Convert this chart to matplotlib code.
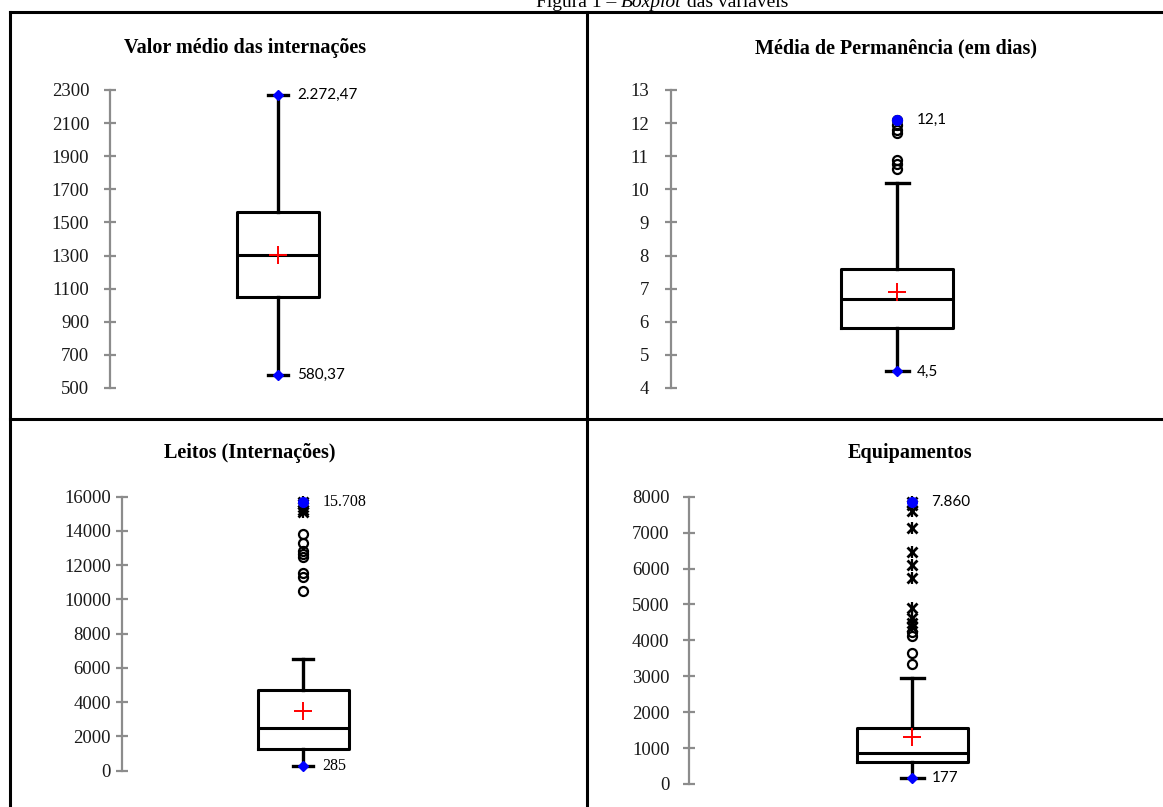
import matplotlib
matplotlib.use("Agg")
import matplotlib.pyplot as plt
from matplotlib.lines import Line2D

# dados
titulos = ["Valor médio das internações", "Média de Permanência (em dias)",
           "Leitos (Internações)", "Equipamentos"]
q1 = [1052, 5.8, 1285, 620]
mediana = [1305, 6.7, 2480, 855]
q3 = [1565, 7.6, 4710, 1550]
media = [1303, 6.9, 3490, 1317]
minimo = [580.37, 4.5, 285, 177]
bigode_sup = [2272.47, 10.2, 6500, 2940]
maximo = [2272.47, 12.1, 15708, 7860]
circulos = [[],
            [10.6, 10.75, 10.9, 11.7, 11.8, 11.95],
            [10510, 11330, 11560, 12460, 12650, 12850, 13310, 13820],
            [3340, 3640, 4130, 4240]]
asteriscos = [[],
              [],
              [15100, 15250, 15400, 15550],
              [4380, 4490, 4610, 4890, 5750, 6100, 6470, 7130, 7610, 7760]]
tipo_max = [None, 'circulo', 'asterisco', 'asterisco']
rot_max = ["2.272,47", "12,1", "15.708", "7.860"]
rot_min = ["580,37", "4,5", "285", "177"]
yticks = [list(range(500, 2301, 200)), list(range(4, 14)),
          list(range(0, 16001, 2000)), list(range(0, 8001, 1000))]

# layout em pixels (figura 1163x807)
W, H = 1163, 807
eixo_x = [110, 671, 122, 689]
eixo_topo = [90, 90, 496.7, 496.7]
eixo_base = [388, 388, 770.7, 784]
centro = [168, 226, 181, 223]
largura = [82, 112, 91, 111]
tampa = [20, 23, 20, 23]
titulo_xy = [(245, 48), (896, 48), (250, 453), (910, 453)]
rot_serif = [False, False, True, False]
pad = [11, 12, 4, 10]


def asterisco(ax, x, ys):
    # marcador tipo "ж": x sobreposto a uma barra vertical
    ax.plot(x, ys, ls='none', marker='x', mec='black', ms=7.5, mew=2)
    ax.plot(x, ys, ls='none', marker='|', mec='black', ms=8, mew=1.6)


def circulo(ax, x, ys):
    ax.plot(x, ys, ls='none', marker='o', mfc='none', mec='black', ms=6.5, mew=1.6)


fig = plt.figure(figsize=(11.63, 8.07), dpi=100)

for i in range(4):
    ax = fig.add_axes([eixo_x[i] / W, 1 - eixo_base[i] / H, 400 / W,
                       (eixo_base[i] - eixo_topo[i]) / H])
    stats = [dict(med=mediana[i], q1=q1[i], q3=q3[i], whislo=minimo[i],
                  whishi=bigode_sup[i], mean=media[i], fliers=[])]
    ax.bxp(stats, positions=[centro[i]], widths=[largura[i]], capwidths=[tampa[i]],
           showmeans=True, showfliers=False,
           boxprops=dict(color='black', linewidth=2.2),
           medianprops=dict(color='black', linewidth=2.2),
           whiskerprops=dict(color='black', linewidth=2.4),
           capprops=dict(color='black', linewidth=2.4),
           meanprops=dict(marker='+', markeredgecolor='red', markersize=13,
                          markeredgewidth=1.4))
    if circulos[i]:
        circulo(ax, [centro[i]] * len(circulos[i]), circulos[i])
    if asteriscos[i]:
        asterisco(ax, [centro[i]] * len(asteriscos[i]), asteriscos[i])
    if tipo_max[i] == 'asterisco':
        asterisco(ax, [centro[i]], [maximo[i]])
    elif tipo_max[i] == 'circulo':
        circulo(ax, [centro[i]], [maximo[i]])
    if tipo_max[i]:
        ax.plot([centro[i]], [maximo[i]], 'o', color='blue', ms=7)
    else:
        ax.plot([centro[i]], [maximo[i]], 'D', color='blue', ms=5)
    ax.plot([centro[i]], [minimo[i]], 'D', color='blue', ms=5)

    fam = 'Liberation Serif' if rot_serif[i] else 'Lato'
    fs = 11.5 if rot_serif[i] else 11
    ax.annotate(rot_max[i], xy=(centro[i], maximo[i]), xytext=(14, 0),
                textcoords='offset points', va='center', family=fam, fontsize=fs)
    ax.annotate(rot_min[i], xy=(centro[i], minimo[i]), xytext=(14, 0),
                textcoords='offset points', va='center', family=fam, fontsize=fs)

    ax.set_xlim(0, 400)
    ax.set_ylim(yticks[i][0], yticks[i][-1])
    ax.set_yticks(yticks[i])
    ax.set_xticks([])
    for s in ['top', 'right', 'bottom']:
        ax.spines[s].set_visible(False)
    ax.spines['left'].set_color('#8c8c8c')
    ax.spines['left'].set_linewidth(1.6)
    ax.tick_params(axis='y', direction='inout', length=8, width=1.6,
                   color='#8c8c8c', pad=pad[i], labelsize=13.5,
                   labelcolor='#1a1a1a')
    for lab in ax.get_yticklabels():
        lab.set_family('Liberation Serif')
    for ln in ax.lines:
        ln.set_clip_on(False)

    fig.text(titulo_xy[i][0] / W, 1 - titulo_xy[i][1] / H, titulos[i],
             ha='center', va='center', family='Liberation Serif',
             fontweight='bold', fontsize=14.5)

# linhas da tabela
lw = 2.2
fig.add_artist(Line2D([10 / W, 1], [1 - 12 / H] * 2, color='black', lw=lw))
fig.add_artist(Line2D([10 / W, 1], [1 - 419 / H] * 2, color='black', lw=lw))
fig.add_artist(Line2D([10 / W] * 2, [0, 1 - 12 / H], color='black', lw=lw))
fig.add_artist(Line2D([587 / W] * 2, [0, 1 - 12 / H], color='black', lw=lw))

# título da figura (cortado no topo, como no original)
r = fig.canvas.get_renderer()
yb = 1 - 7 / H
t1 = fig.text(0, yb, "Figura 1 – ", family='Liberation Serif', fontsize=14,
              va='baseline')
t2 = fig.text(0, yb, "Boxplot", family='Liberation Serif', fontsize=14,
              style='italic', va='baseline')
t3 = fig.text(0, yb, " das variáveis", family='Liberation Serif', fontsize=14,
              va='baseline')
w1 = t1.get_window_extent(r).width
w2 = t2.get_window_extent(r).width
w3 = t3.get_window_extent(r).width
x0 = 662 - (w1 + w2 + w3) / 2
t1.set_x(x0 / W)
t2.set_x((x0 + w1) / W)
t3.set_x((x0 + w1 + w2) / W)

fig.savefig('out.png', dpi=100)
